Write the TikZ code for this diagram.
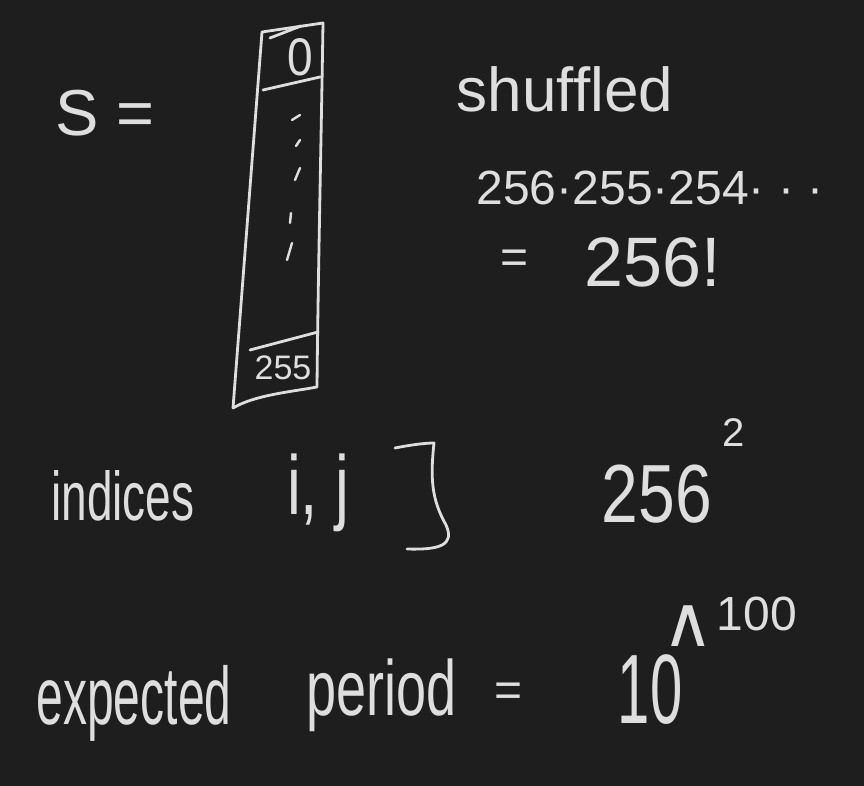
\documentclass[tikz,border=0pt]{standalone}
\usepackage{fontspec}
\usepackage{graphicx}
\setmainfont{Liberation Sans}
\newfontfamily\dejavu{DejaVu Sans}
\newcommand{\fsz}[1]{\fontsize{#1}{#1}\selectfont}
\definecolor{bgc}{RGB}{30,30,30}
\definecolor{inkc}{RGB}{222,222,222}
\tikzset{
  ink/.style={text=inkc, inner sep=0pt, anchor=center},
  stroke/.style={draw=inkc, line width=2.8pt, line cap=round, line join=round},
  tick/.style={draw=inkc, line width=2.4pt, line cap=round}
}
\begin{document}
\begin{tikzpicture}[x=1pt,y=-1pt]
\fill[bgc] (0,0) rectangle (864,786);
\useasboundingbox (0,0) rectangle (864,786);

% S =
\node[ink] (slabel) at (105,113) {\fsz{65}S =};

% array box
\coordinate (tl) at (262,32);
\coordinate (tr) at (323,23);
\coordinate (br) at (317,387);
\coordinate (bl) at (233,408);
\draw[stroke] (tl) -- (tr) .. controls (321,150) and (318,280) .. (br)
  .. controls (290,392) and (255,395) .. (bl) -- cycle;
\draw[stroke] (270,38) -- (301,26);
\draw[stroke] (263,90) -- (320,77);
\draw[stroke] (250,350) -- (318,332);
\node[ink] (zero) at (300,57) {\scalebox{1}[1.15]{\fsz{46}0}};
\node[ink] (last) at (283,368) {\fsz{34}255};
\draw[tick] (292,120) -- (300,115);
\draw[tick] (296,146) -- (300,140);
\draw[tick] (295,180) -- (300,168);
\draw[tick] (290,223) -- (291,213);
\draw[tick] (287,260) -- (292,243);

% shuffled
\node[ink] (shuf) at (565,89) {\fsz{62}shuffled};
\node[ink] (prod) at (650,188) {\fsz{48}256·255·254· · ·};
\node[ink] (eq1) at (515,262) {\fsz{48}=};
\node[ink] (fact) at (653,262) {\fsz{70}256!};

% indices
\node[ink] (ind) at (123,496) {\scalebox{1}[1.5]{\fsz{46}indices}};
\node[ink] (ij) at (318,493) {\scalebox{1}[1.35]{\fsz{62}i, j}};
\draw[stroke] (395,448) .. controls (410,445) and (425,443) .. (434,443)
  .. controls (430,480) and (432,500) .. (446,525)
  .. controls (455,545) and (440,550) .. (407,549);
\node[ink] (sq) at (657,494) {\scalebox{1}[1.25]{\fsz{66}256}};
\node[ink] (sqexp) at (734,433) {\fsz{40}2};

% expected period
\node[ink] (exp) at (134,703) {\scalebox{1}[1.7]{\fsz{48}expected}};
\node[ink] (per) at (382,695) {\scalebox{1}[1.45]{\fsz{54}period}};
\node[ink] (eq2) at (509,695) {\fsz{48}=};
\node[ink] (ten) at (650,690) {\scalebox{1}[1.7]{\fsz{58}10}};
\node[ink] (caret) at (688,626) {\scalebox{1.6}[1.6]{\fsz{44}\dejavu ∧}};
\node[ink] (hundred) at (757,614) {\fsz{48}100};
\end{tikzpicture}
\end{document}
